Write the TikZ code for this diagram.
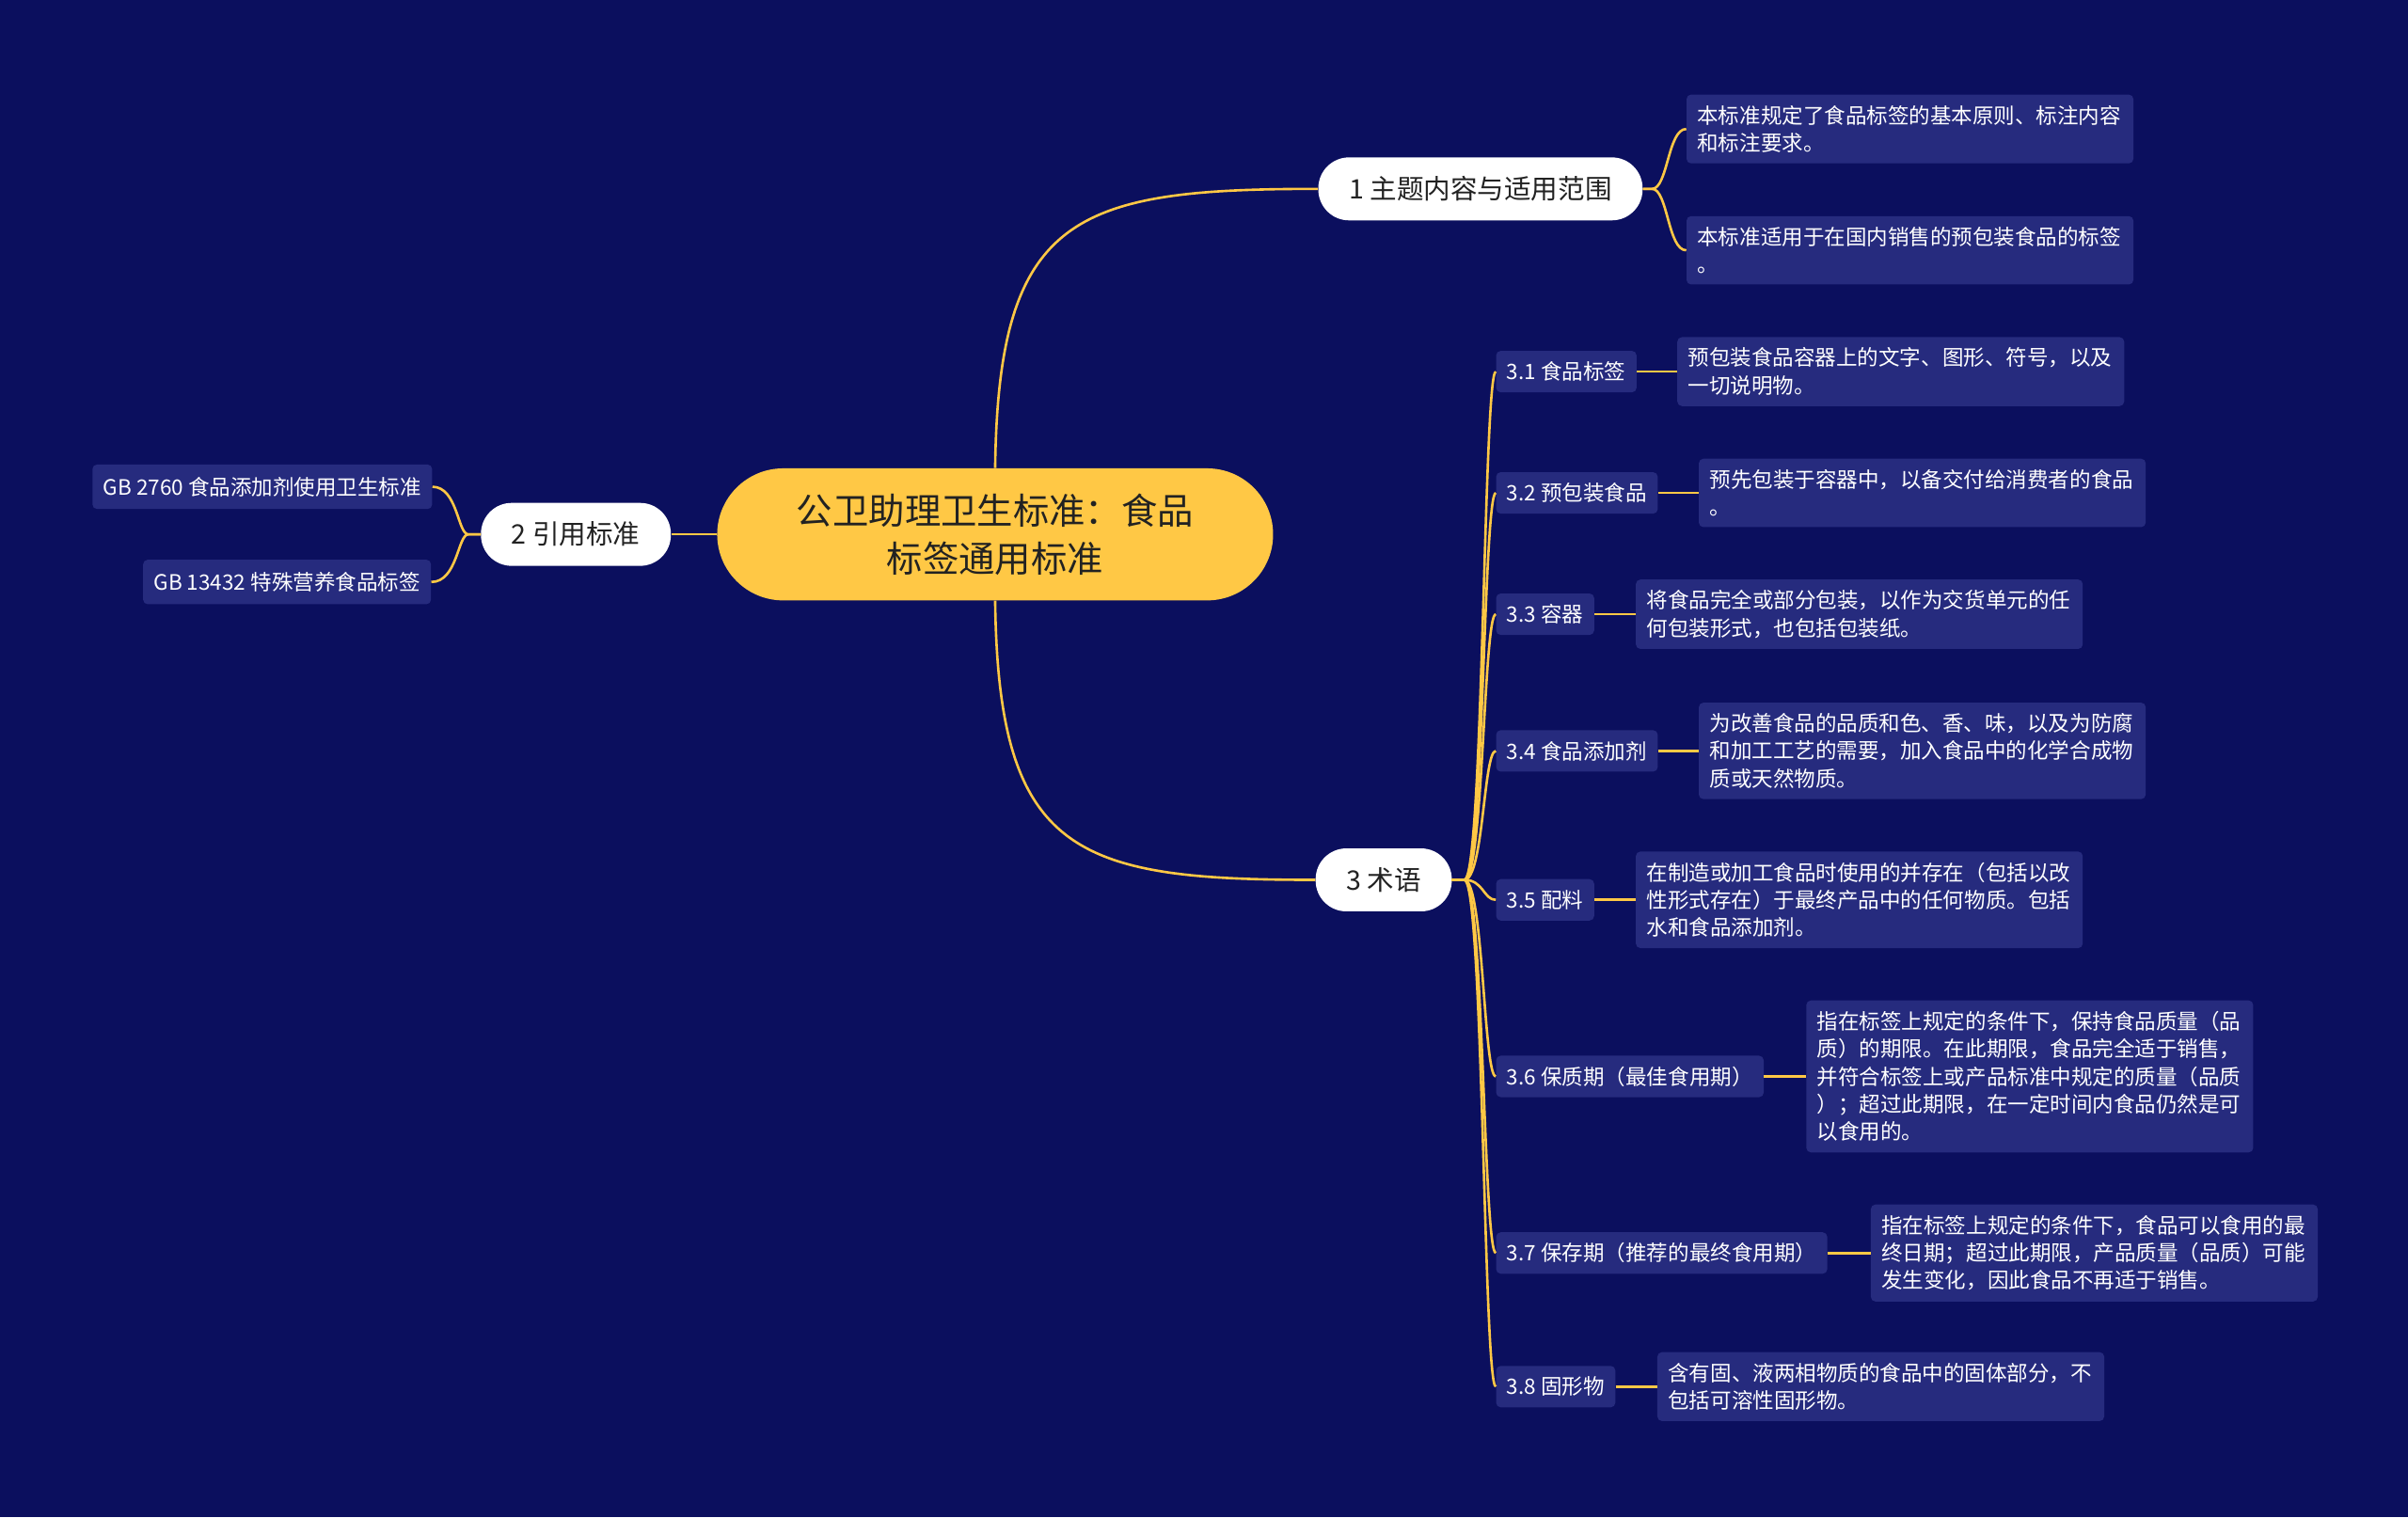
\documentclass[tikz,border=0pt]{standalone}
\usepackage{fontspec}
\setmainfont{Noto Sans CJK SC}
\definecolor{bg}{HTML}{0B0F5E}
\definecolor{leaf}{HTML}{262B7E}
\definecolor{yel}{HTML}{FFC845}
\definecolor{dk}{HTML}{222222}
\begin{document}
\begin{tikzpicture}[x=1pt,y=-1pt,
  lk/.style={draw=yel,line width=1.6pt},
  leafn/.style={fill=leaf,rounded corners=3pt,text=white,font=\fontsize{13.8}{18}\selectfont,align=left,anchor=west,inner xsep=7pt,inner ysep=7pt},
  termn/.style={fill=leaf,rounded corners=3pt,text=white,font=\fontsize{13.8}{18}\selectfont,anchor=west,inner xsep=7pt,minimum height=27pt},
  topn/.style={fill=white,rounded corners=20pt,text=dk,font=\fontsize{17.5}{22}\selectfont,minimum height=41pt,inner xsep=20pt}]
\fill[bg] (0,0) rectangle (1568,988);
\useasboundingbox (0,0) rectangle (1568,988);
\node[fill=yel,rounded corners=43pt,minimum width=362pt,minimum height=86pt,text=dk,align=center,font=\fontsize{23.5}{31}\selectfont] (c) at (648,348) {公卫助理卫生标准：食品\\标签通用标准};
\node[topn] (t1) at (964,123) {1 主题内容与适用范围};
\node[topn] (t3) at (901,573) {3 术语};
\node[topn] (t2) at (375,348) {2 引用标准};
\node[termn,minimum height=29pt] (g1) at (60,317) {GB 2760 食品添加剂使用卫生标准};
\node[termn,minimum height=29pt] (g2) at (93,379) {GB 13432 特殊营养食品标签};
\node[leafn,text width=277pt] (a1) at (1098,84) {本标准规定了食品标签的基本原则、标注内容\\和标注要求。};
\node[leafn,text width=277pt] (a2) at (1098,163) {本标准适用于在国内销售的预包装食品的标签\\。};
\foreach \n/\y/\lab/\lx/\txt in {
 1/242/{3.1 食品标签}/1092/{预包装食品容器上的文字、图形、符号，以及\\一切说明物。},
 2/321/{3.2 预包装食品}/1106/{预先包装于容器中，以备交付给消费者的食品\\。},
 3/400/{3.3 容器}/1065/{将食品完全或部分包装，以作为交货单元的任\\何包装形式，也包括包装纸。},
 4/489/{3.4 食品添加剂}/1106/{为改善食品的品质和色、香、味，以及为防腐\\和加工工艺的需要，加入食品中的化学合成物\\质或天然物质。},
 5/586/{3.5 配料}/1065/{在制造或加工食品时使用的并存在（包括以改\\性形式存在）于最终产品中的任何物质。包括\\水和食品添加剂。},
 6/701/{3.6 保质期（最佳食用期）}/1176/{指在标签上规定的条件下，保持食品质量（品\\质）的期限。在此期限，食品完全适于销售，\\并符合标签上或产品标准中规定的质量（品质\\）；超过此期限，在一定时间内食品仍然是可\\以食用的。},
 7/816/{3.7 保存期（推荐的最终食用期）}/1218/{指在标签上规定的条件下，食品可以食用的最\\终日期；超过此期限，产品质量（品质）可能\\发生变化，因此食品不再适于销售。},
 8/903/{3.8 固形物}/1079/{含有固、液两相物质的食品中的固体部分，不\\包括可溶性固形物。}} {
  \node[termn] (s\n) at (974,\y) {\lab};
  \node[leafn,text width=277pt] (l\n) at (\lx,\y) {\txt};
  \draw[lk] (s\n.east) -- (l\n.west);
  \draw[lk] (t3.east) -- ++(8,0) .. controls (966,573) and (966,\y) .. (s\n.west);
}
\draw[lk] (c.north) .. controls (650,140) and (700,123) .. (t1.west);
\draw[lk] (c.south) .. controls (650,556) and (700,573) .. (t3.west);
\draw[lk] (c.west) -- (t2.east);
\draw[lk] (t1.east) -- ++(6,0) .. controls (1086,123) and (1086,84) .. (a1.west);
\draw[lk] (t1.east) -- ++(6,0) .. controls (1086,123) and (1086,163) .. (a2.west);
\draw[lk] (t2.west) -- ++(-8,0) .. controls (298,348) and (298,317) .. (g1.east);
\draw[lk] (t2.west) -- ++(-8,0) .. controls (298,348) and (298,379) .. (g2.east);
\end{tikzpicture}
\end{document}
